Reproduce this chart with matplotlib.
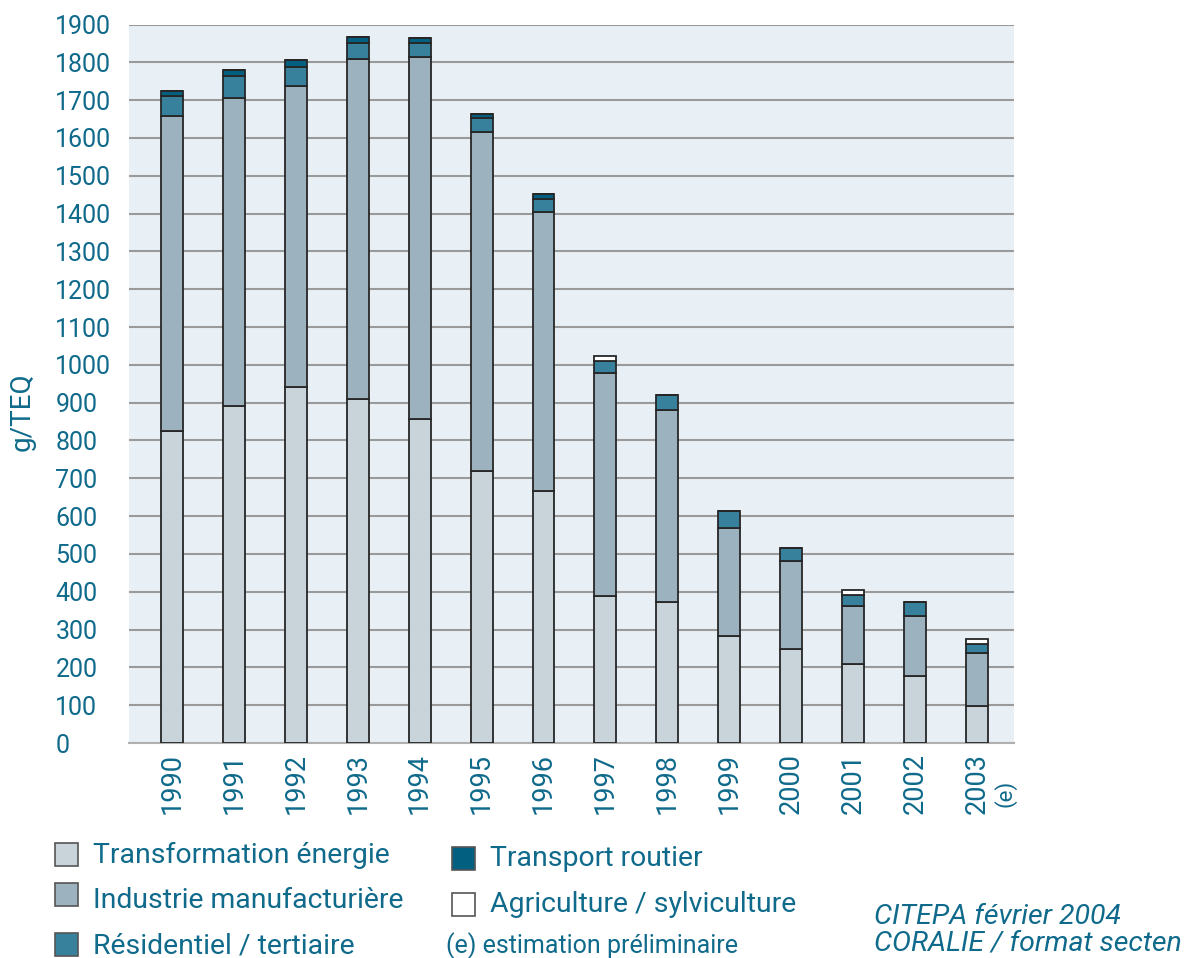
import matplotlib.pyplot as plt
from matplotlib.patches import Rectangle
from matplotlib.transforms import blended_transform_factory
import numpy as np

plt.rcParams['font.family'] = ['Roboto', 'DejaVu Sans']

TXT = '#0f6a8b'

years = ['1990', '1991', '1992', '1993', '1994', '1995', '1996',
         '1997', '1998', '1999', '2000', '2001', '2002', '2003']

# g/TEQ par secteur
energie = [824, 891, 942, 910, 856, 719, 666, 388, 373, 284, 249, 210, 178, 99]
industrie = [834, 816, 795, 898, 958, 896, 737, 590, 507, 284, 233, 152, 158, 140]
residentiel = [52, 57, 51, 44, 36, 38, 35, 32, 41, 45, 34, 29, 37, 23]
transport = [13, 16, 17, 15, 15, 11, 15, 0, 0, 0, 0, 0, 0, 0]
agriculture = [0, 0, 0, 0, 0, 0, 0, 13, 0, 0, 0, 14, 0, 14]

series = [
    ('Transformation énergie', energie, '#c9d4da'),
    ('Industrie manufacturière', industrie, '#9cb2bf'),
    ('Résidentiel / tertiaire', residentiel, '#38819c'),
    ('Transport routier', transport, '#025f80'),
    ('Agriculture / sylviculture', agriculture, '#ffffff'),
]

fig = plt.figure(figsize=(11.99, 9.58), dpi=100)
ax = fig.add_axes([0.1076, 0.2244, 0.7381, 0.7500])
ax.set_facecolor('#e8f0f6')

x = np.arange(len(years))
bottom = np.zeros(len(years))
for name, vals, col in series:
    vals = np.array(vals, dtype=float)
    ax.bar(x, vals, bottom=bottom, width=0.355, color=col,
           edgecolor='#262626', linewidth=1.3, zorder=3)
    bottom += vals

ax.set_xlim(-0.695, 13.6)
ax.set_ylim(0, 1900)
ax.set_yticks(np.arange(0, 2000, 100))
ax.grid(axis='y', color='#9a9a9a', linewidth=1.5, zorder=1)
for s in ['left', 'right', 'top']:
    ax.spines[s].set_visible(False)
ax.spines['bottom'].set_color('#b0b0b0')
ax.spines['bottom'].set_linewidth(1.5)

ax.tick_params(axis='y', length=0, pad=53, labelsize=18, labelcolor=TXT)
for lbl in ax.get_yticklabels():
    lbl.set_horizontalalignment('left')
ax.set_xticks(x)
ax.set_xticklabels(years, rotation=90, fontsize=19.5, color=TXT)
ax.tick_params(axis='x', length=0, pad=7)

# "(e)" à côté de 2003
trans = blended_transform_factory(ax.transData, ax.transAxes)
ax.text(13.45, -0.051, '(e)', transform=trans, rotation=90,
        ha='center', va='top', fontsize=16, color=TXT)

fig.text(22 / 1199, 1 - 412 / 958, 'g/TEQ', rotation=90, ha='center',
         va='center', fontsize=20, color=TXT)

# légende
W, H = 1199, 958
legend_items = [
    (series[0], 55, 843, 855),
    (series[1], 55, 883, 901),
    (series[2], 55, 933, 946),
    (series[3], 452, 847, 858),
    (series[4], 452, 893, 905),
]
for (name, vals, col), sx, sy, ty in legend_items:
    fig.patches.append(Rectangle((sx / W, 1 - (sy + 23) / H), 23 / W, 23 / H,
                                 transform=fig.transFigure, facecolor=col,
                                 edgecolor='#555555', linewidth=1.2))
    fig.text((sx + 38) / W, 1 - ty / H, name, ha='left', va='center',
             fontsize=20.4, color=TXT)

fig.text(446 / W, 1 - 946 / H, '(e) estimation préliminaire', ha='left',
         va='center', fontsize=18, color=TXT)
fig.text(874 / W, 1 - 917 / H, 'CITEPA février 2004', ha='left',
         va='center', fontsize=20.5, style='italic', color=TXT)
fig.text(874 / W, 1 - 943 / H, 'CORALIE / format secten', ha='left',
         va='center', fontsize=20.5, style='italic', color=TXT)

fig.savefig('out.png', dpi=100)
